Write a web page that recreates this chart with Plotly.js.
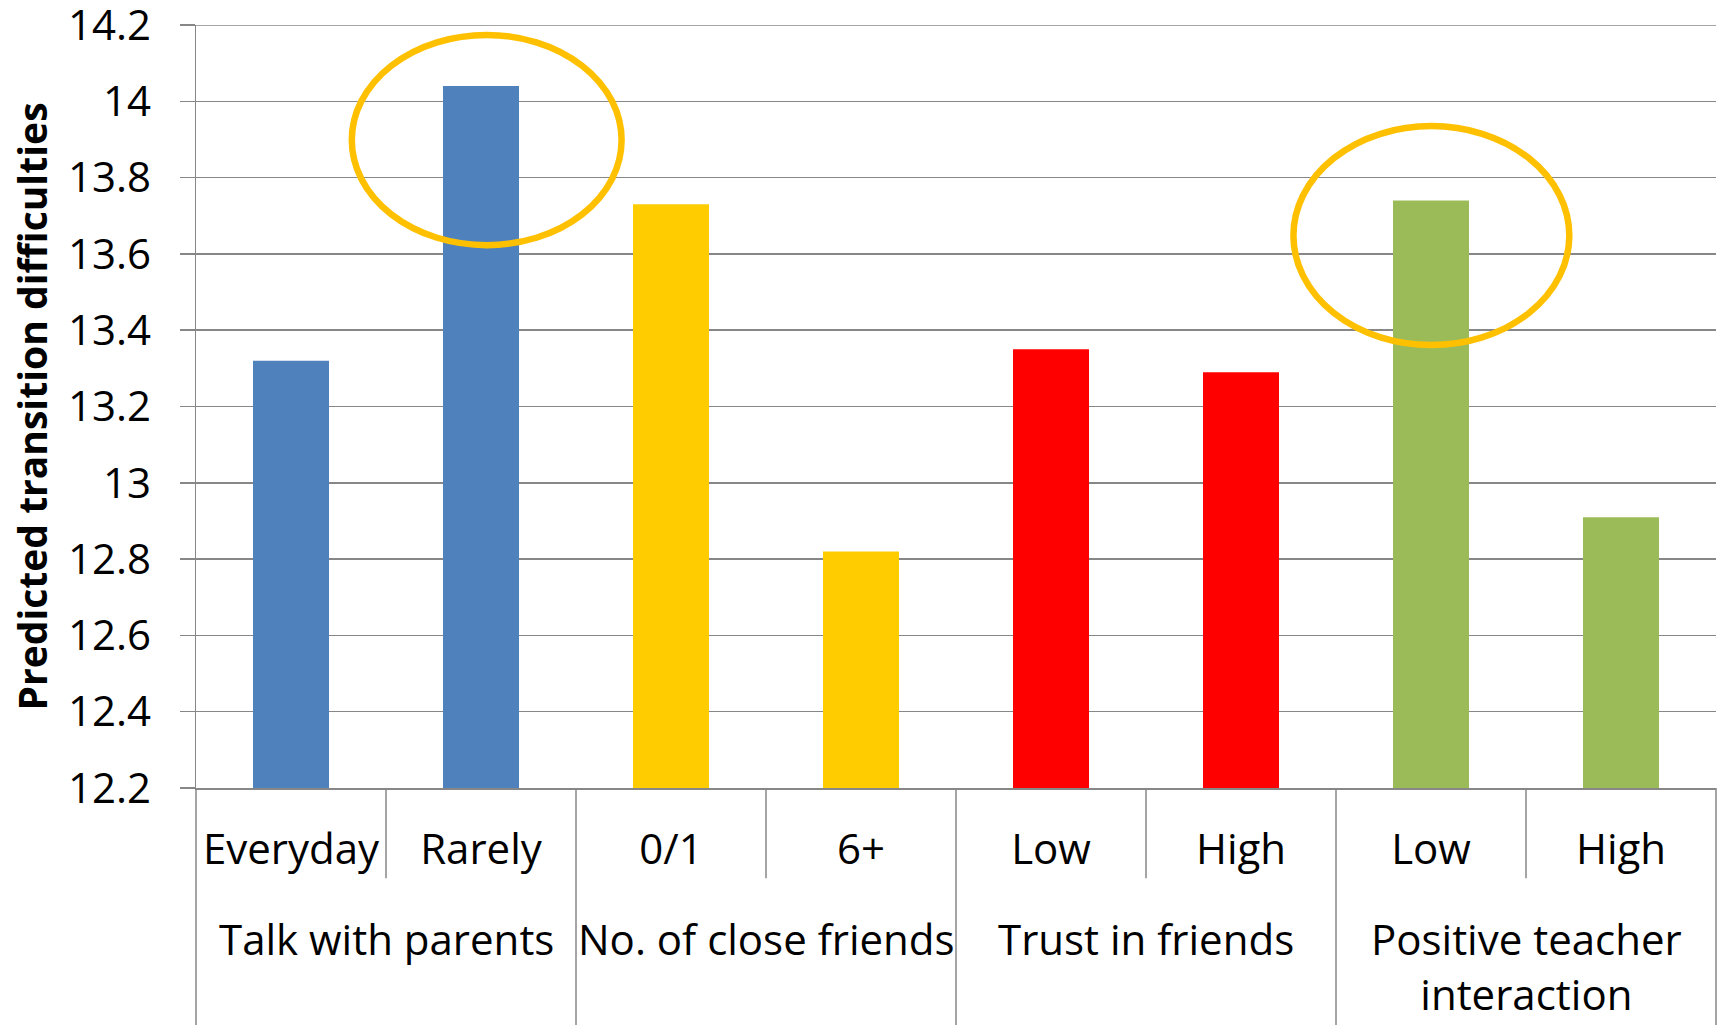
<!DOCTYPE html>
<html>
<head>
<meta charset="utf-8">
<script src="https://cdn.plot.ly/plotly-3.0.1.min.js"></script>
<style>
  html, body { margin: 0; padding: 0; background: #ffffff; }
  #chart { width: 1719px; height: 1025px; }
</style>
</head>
<body>
<div id="chart"></div>
<script>
// Predicted transition difficulties by social-support factor
const groups = ['Talk with parents', 'No. of close friends', 'Trust in friends', 'Positive teacher<br>interaction'];
const levels = ['Everyday', 'Rarely', '0/1', '6+', 'Low', 'High', 'Low', 'High'];
const groupOfLevel = [0, 0, 1, 1, 2, 2, 3, 3];
const values = [13.32, 14.04, 13.73, 12.82, 13.35, 13.29, 13.74, 12.91];
const yTicks = [12.2, 12.4, 12.6, 12.8, 13, 13.2, 13.4, 13.6, 13.8, 14, 14.2];
const yTitle = 'Predicted transition difficulties';

const groupColors = ['#4f81bd', '#ffcc00', '#ff0000', '#9bbb59'];
const gridGray = '#878787';
const ringColor = '#ffc000';
const font = '"Open Sans", "Noto Sans", sans-serif';
const yMin = yTicks[0];
const yMax = yTicks[yTicks.length - 1];

const xIdx = levels.map((_, i) => i);

const bars = {
  type: 'bar',
  x: xIdx,
  y: values,
  marker: { color: groupOfLevel.map(g => groupColors[g]), line: { width: 0 } },
  hovertemplate: '%{y}<extra></extra>'
};

const shapes = [];
// top gridline (plotly drops gridlines sitting on the plot edge)
shapes.push({ type: 'line', xref: 'paper', yref: 'y', x0: 0, x1: 1, y0: yMax, y1: yMax,
              line: { color: gridGray, width: 1.5 }, layer: 'below' });

// separators below the axis: short ones between levels, long ones between groups
const shortBottom = -0.1184;
const longBottom = -0.32;
for (let g = 0; g < groups.length; g++) {
  const first = groupOfLevel.indexOf(g);
  const last = groupOfLevel.lastIndexOf(g);
  for (let i = first; i < last; i++) {
    shapes.push({ type: 'line', xref: 'x', yref: 'paper', x0: i + 0.5, x1: i + 0.5, y0: 0, y1: shortBottom,
                  line: { color: gridGray, width: 1.5 } });
  }
  if (g > 0) {
    shapes.push({ type: 'line', xref: 'x', yref: 'paper', x0: first - 0.5, x1: first - 0.5, y0: 0, y1: longBottom,
                  line: { color: gridGray, width: 1.5 } });
  }
}
[0, 1].forEach(px => shapes.push({ type: 'line', xref: 'paper', yref: 'paper', x0: px, x1: px, y0: 0, y1: longBottom,
                                   line: { color: gridGray, width: 1.5 } }));

// highlight rings around the two notable bars
shapes.push({ type: 'circle', xref: 'x', yref: 'y', x0: 0.32, x1: 1.74, y0: 13.623, y1: 14.174,
              line: { color: ringColor, width: 6.5 } });
shapes.push({ type: 'circle', xref: 'x', yref: 'y', x0: 5.276, x1: 6.728, y0: 13.361, y1: 13.935,
              line: { color: ringColor, width: 6.5 } });

// group labels under the level labels
const annotations = groups.map((name, g) => {
  const first = groupOfLevel.indexOf(g);
  const last = groupOfLevel.lastIndexOf(g);
  return {
    xref: 'x', yref: 'paper', x: (first + last) / 2, y: -0.157,
    xanchor: 'center', yanchor: 'top', showarrow: false,
    text: name, align: 'center',
    font: { family: font, size: 42, color: '#000000' }
  };
});

const layout = {
  width: 1719,
  height: 1025,
  margin: { l: 196, r: 3, t: 25, b: 237, pad: 0 },
  paper_bgcolor: '#ffffff',
  plot_bgcolor: '#ffffff',
  showlegend: false,
  bargap: 0.6,
  font: { family: font, size: 42, color: '#000000' },
  xaxis: {
    range: [-0.5, 7.5],
    tickmode: 'array',
    tickvals: xIdx,
    ticktext: levels,
    ticks: '',
    showgrid: false,
    zeroline: false,
    showline: true,
    linecolor: gridGray,
    linewidth: 1.5,
    ticklabelstandoff: 24,
    tickfont: { family: font, size: 42, color: '#000000' },
    fixedrange: true
  },
  yaxis: {
    range: [yMin, yMax],
    tickmode: 'array',
    tickvals: yTicks,
    ticktext: yTicks.map(String),
    ticks: 'outside',
    ticklen: 15,
    tickwidth: 1.5,
    tickcolor: gridGray,
    showgrid: true,
    gridcolor: gridGray,
    gridwidth: 1.5,
    zeroline: false,
    showline: true,
    linecolor: gridGray,
    linewidth: 1.5,
    ticklabelstandoff: 20,
    ticklabeloverflow: 'allow',
    tickfont: { family: font, size: 42, color: '#000000' },
    title: { text: yTitle, standoff: 8, font: { family: font, size: 39, color: '#000000', weight: 'bold' } },
    fixedrange: true
  },
  shapes: shapes,
  annotations: annotations
};

Plotly.newPlot('chart', [bars], layout, { displayModeBar: false, staticPlot: true });
</script>
</body>
</html>
